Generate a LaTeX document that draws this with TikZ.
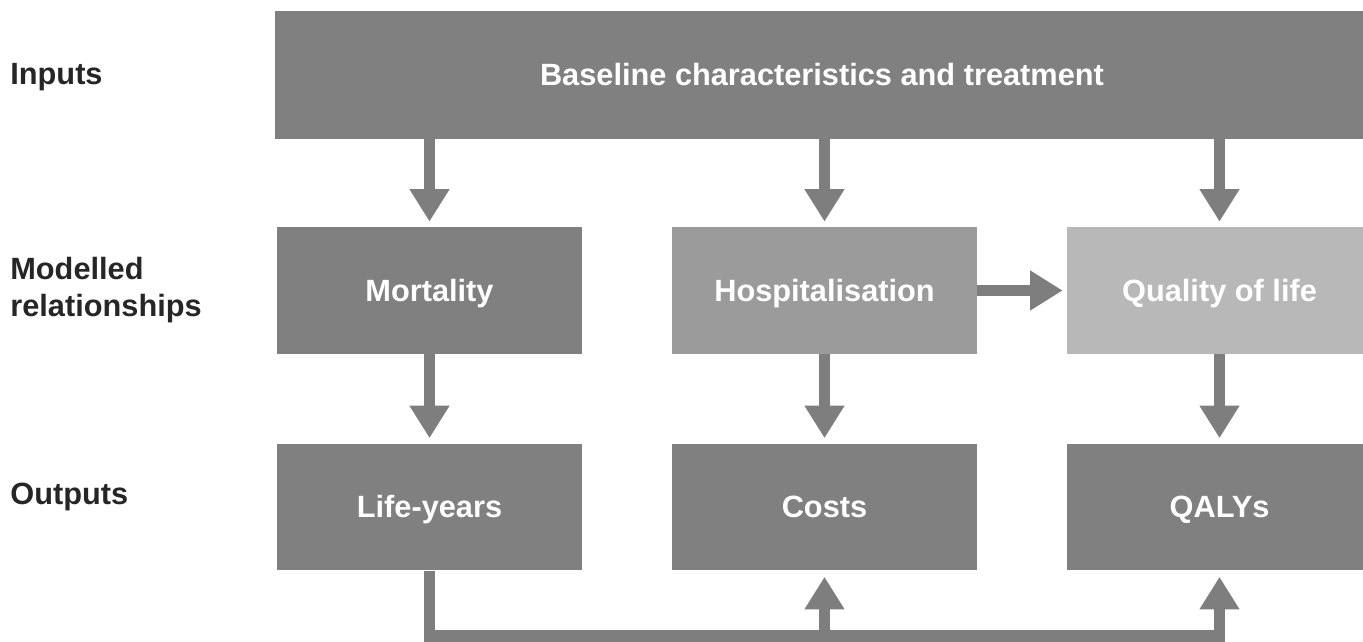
\documentclass[tikz,border=0pt]{standalone}
\usepackage{fontspec}
\setmainfont{Liberation Sans}
\usetikzlibrary{positioning,calc,arrows.meta}
\definecolor{BoxDark}{RGB}{128,128,128}
\definecolor{BoxMid}{RGB}{155,155,155}
\definecolor{BoxLight}{RGB}{184,184,184}
\definecolor{ArrowGray}{RGB}{126,126,126}
\definecolor{LabelInk}{RGB}{38,38,38}
\tikzset{
  box/.style={fill=BoxDark,text=white,font=\bfseries\fontsize{17.5}{20.5}\selectfont,
    minimum width=6.1cm,minimum height=2.54cm,inner sep=0pt,
    text height=14.2pt,text depth=1.8pt},
  rowlabel/.style={anchor=west,align=left,text=LabelInk,inner sep=0pt,
    font=\bfseries\fontsize{17.5}{21}\selectfont},
  flow/.style={draw=ArrowGray,line width=6.8pt,line join=miter,
    -{Triangle[width=21.5pt,length=18.5pt]},shorten >=0.1cm},
}
\begin{document}
\begin{tikzpicture}[x=0.02cm,y=-0.02cm]
    \clip (0,0) rectangle (1363,642);
    % inputs
    \node[box,minimum width=21.9cm,minimum height=2.56cm] (base) at (822,75) {Baseline characteristics and treatment};
    % modelled relationships
    \node[box] (mort) at (429.5,290.5) {Mortality};
    \node[box,fill=BoxMid] (hosp) at (824.5,290.5) {Hospitalisation};
    \node[box,fill=BoxLight] (qol) at (1219.5,290.5) {Quality of life};
    % outputs
    \node[box] (life) at (429.5,507) {Life-years};
    \node[box] (cost) at (824.5,507) {Costs};
    \node[box] (qaly) at (1219.5,507) {QALYs};
    % row labels
    \node[rowlabel] (lin) at (10,77) {Inputs};
    \node[rowlabel] (lmod) at (10,290) {Modelled\\relationships};
    \node[rowlabel] (lout) at (10,497) {Outputs};
    % arrows
    \foreach \n in {mort,hosp,qol} {\draw[flow] (\n |- base.south) -- (\n.north);}
    \foreach \a/\b in {mort/life,hosp/cost,qol/qaly} {\draw[flow] (\a) -- (\b);}
    \draw[flow,shorten >=0.08cm] (hosp) -- (qol);
    \coordinate (low) at (429.5,636);
    \draw[flow,shorten >=0.12cm] (life.south) -- (low) -| (qaly.south);
    \draw[flow,shorten >=0.12cm] (cost |- low) -- (cost.south);
\end{tikzpicture}
\end{document}
